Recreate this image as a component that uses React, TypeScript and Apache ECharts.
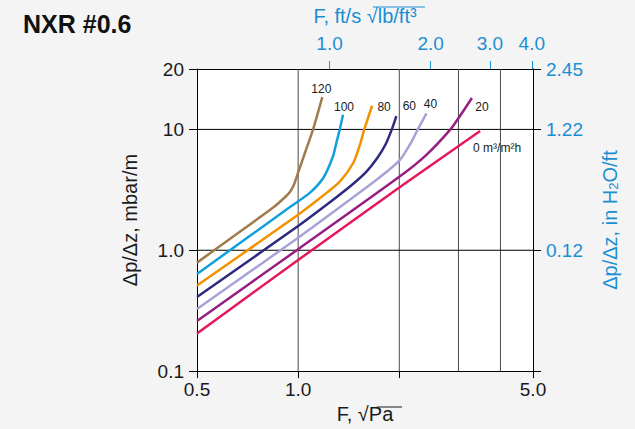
import React, { useEffect, useRef } from 'react';
import * as echarts from 'echarts';

const TITLE = 'NXR #0.6';

// Liquid load labels (m³/m²h) and curve colours
const LOAD_LABELS = ['0 m³/m²h', '20', '40', '60', '80', '100', '120'];
const COLORS = ['#e6175c', '#971e82', '#a8a3d7', '#2d2a7f', '#f39200', '#12a0dc', '#a07b4b'];

// F-factor (√Pa) and pressure drop (mbar/m) per liquid load
const F_0 = [0.5, 1.0, 2.0, 3.48];
const DP_0 = [0.205, 0.83, 3.3, 9.7];
const F_20 = [0.5, 1.0, 2.0, 2.4, 2.84, 3.03, 3.29];
const DP_20 = [0.26, 1.02, 4.05, 6.1, 10, 12.9, 18.2];
const F_40 = [0.5, 1.0, 1.64, 1.85, 2.01, 2.12, 2.2, 2.27, 2.41];
const DP_40 = [0.327, 1.27, 3.5, 4.55, 5.6, 7.0, 8.4, 10, 13.6];
const F_60 = [0.5, 1.0, 1.3, 1.45, 1.6, 1.72, 1.82, 1.9, 1.96];
const DP_60 = [0.41, 1.59, 2.75, 3.5, 4.5, 5.8, 7.5, 10, 12.9];
const F_80 = [0.5, 1.0, 1.19, 1.33, 1.46, 1.53, 1.57, 1.66];
const DP_80 = [0.51, 1.97, 2.85, 3.7, 5.3, 7.6, 9.8, 15.7];
const F_100 = [0.5, 0.95, 1.085, 1.19, 1.27, 1.3, 1.33, 1.36];
const DP_100 = [0.636, 2.3, 3.0, 4.0, 6.0, 7.8, 10, 13.2];
const F_120 = [0.5, 0.7, 0.85, 0.92, 0.946, 0.97, 1.0, 1.05, 1.11, 1.18];
const DP_120 = [0.79, 1.55, 2.3, 2.8, 3.05, 3.45, 4.4, 6.5, 10.2, 18.5];

const F_SERIES = [F_0, F_20, F_40, F_60, F_80, F_100, F_120];
const DP_SERIES = [DP_0, DP_20, DP_40, DP_60, DP_80, DP_100, DP_120];

// axes
const X_MIN = 0.5;
const X_MAX = 5.0;
const Y_MIN = 0.1;
const Y_MAX = 31.62;
const BOTTOM_LABELS = [0.5, 1.0, 5.0];
const BOTTOM_TICKS = [0.5, 1.0, 2.0, 5.0];
const V_GRID = [1, 2, 3, 4];
const H_GRID = [1, 10];
const LEFT_TICKS = [0.1, 1, 10, Y_MAX];
const LEFT_TICK_TEXT = ['0.1', '1.0', '10', '20'];
const RIGHT_TICK_TEXT = ['', '0.12', '1.22', '2.45'];
const TOP_TICKS = [1, 2, 3, 4];
const TOP_TICK_TEXT = ['1.0', '2.0', '3.0', '4.0'];
const SQRTPA_PER_FT_UNIT = 1.24;

// label offsets (px) from each curve's end
const LABEL_OFFSETS = [[17, 17], [10, 9], [4, -9], [13, -10], [12, 1], [1, -8], [-1, -8]];

const BLUE = '#1b8fd2';
const FONT = 'Liberation Sans, Arial, sans-serif';

function nearestIndex(values: number[], v: number) {
  let best = 0;
  let bd = Infinity;
  values.forEach((t, i) => {
    const d = Math.abs(Math.log(t) - Math.log(v));
    if (d < bd) { bd = d; best = i; }
  });
  return best;
}

export default function App() {
  const ref = useRef<HTMLDivElement>(null);
  useEffect(() => {
    if (!ref.current) return;
    const chart = echarts.init(ref.current, null, { renderer: 'svg' });

    const gridSeries: any[] = [];
    V_GRID.forEach((v) => {
      gridSeries.push({
        type: 'line', silent: true, symbol: 'none', xAxisIndex: 0, yAxisIndex: 0,
        data: [[v, Y_MIN], [v, Y_MAX]],
        lineStyle: { color: '#4a4a4a', width: 1 },
      });
    });
    H_GRID.forEach((v) => {
      gridSeries.push({
        type: 'line', silent: true, symbol: 'none', xAxisIndex: 0, yAxisIndex: 0,
        data: [[X_MIN, v], [X_MAX, v]],
        lineStyle: { color: '#000', width: 1 },
      });
    });

    const curveSeries = F_SERIES.map((fs, i) => {
      const dps = DP_SERIES[i];
      const last = fs.length - 1;
      return {
        type: 'line', name: LOAD_LABELS[i], symbol: 'none', smooth: 0.25,
        xAxisIndex: 0, yAxisIndex: 0,
        data: fs.map((f, j) => [f, dps[j]]),
        lineStyle: { color: COLORS[i], width: 2.5 },
        markPoint: {
          symbol: 'circle', symbolSize: 0, silent: true,
          data: [{
            coord: [fs[last], dps[last]],
            label: {
              show: true, position: 'inside', formatter: LOAD_LABELS[i],
              offset: LABEL_OFFSETS[i], color: '#1a1a1a', fontSize: 12, fontFamily: FONT,
            },
          }],
        },
      };
    });

    chart.setOption({
      animation: false,
      backgroundColor: '#f4f4f4',
      textStyle: { fontFamily: FONT },
      title: {
        text: TITLE, left: 18, top: 6,
        textStyle: { fontSize: 25, fontWeight: 'bold', color: '#111', fontFamily: FONT },
      },
      grid: {
        left: 197, right: 102, top: 69, bottom: 55, show: true,
        backgroundColor: '#fff', borderWidth: 0,
      },
      xAxis: [
        {
          type: 'log', position: 'bottom', min: X_MIN, max: X_MAX, logBase: 10,
          axisLine: { show: true, lineStyle: { color: '#000', width: 1 } },
          axisTick: { show: true, customValues: BOTTOM_TICKS, length: 7, lineStyle: { color: '#000' } },
          axisLabel: {
            customValues: BOTTOM_LABELS, fontSize: 19, color: '#1a1a1a', margin: 9,
            formatter: (v: number) => v.toFixed(1),
          },
          splitLine: { show: false }, minorTick: { show: false },
          name: 'F, √Pa', nameLocation: 'middle', nameGap: 31,
          nameTextStyle: { fontSize: 20, color: '#1a1a1a' },
        },
        {
          type: 'log', position: 'top', min: X_MIN / SQRTPA_PER_FT_UNIT, max: X_MAX / SQRTPA_PER_FT_UNIT, logBase: 10,
          axisLine: { show: true, lineStyle: { color: '#000', width: 1 } },
          axisTick: { show: true, customValues: TOP_TICKS, length: 8, lineStyle: { color: BLUE } },
          axisLabel: {
            customValues: TOP_TICKS, fontSize: 19, color: BLUE, margin: 16,
            formatter: (v: number) => TOP_TICK_TEXT[nearestIndex(TOP_TICKS, v)],
          },
          splitLine: { show: false },
          name: 'F, ft/s √lb/ft³', nameLocation: 'middle', nameGap: 43,
          nameTextStyle: { fontSize: 20, color: BLUE },
        },
      ],
      yAxis: [
        {
          type: 'log', position: 'left', min: Y_MIN, max: Y_MAX, logBase: 10,
          axisLine: { show: true, lineStyle: { color: '#000', width: 1 } },
          axisTick: { show: true, customValues: LEFT_TICKS, length: 8, lineStyle: { color: '#000' } },
          axisLabel: {
            customValues: LEFT_TICKS, fontSize: 19, color: '#1a1a1a', margin: 13,
            formatter: (v: number) => LEFT_TICK_TEXT[nearestIndex(LEFT_TICKS, v)],
          },
          splitLine: { show: false },
          name: 'Δp/Δz, mbar/m', nameLocation: 'middle', nameGap: 57, nameRotate: 90,
          nameTextStyle: { fontSize: 20, color: '#1a1a1a' },
        },
        {
          type: 'log', position: 'right', min: Y_MIN, max: Y_MAX, logBase: 10,
          axisLine: { show: true, lineStyle: { color: '#000', width: 1 } },
          axisTick: { show: true, customValues: LEFT_TICKS, length: 8, lineStyle: { color: '#000' } },
          axisLabel: {
            customValues: LEFT_TICKS.slice(1), fontSize: 19, color: BLUE, margin: 13,
            formatter: (v: number) => RIGHT_TICK_TEXT[nearestIndex(LEFT_TICKS, v)],
          },
          splitLine: { show: false },
          name: 'Δp/Δz, in H{sub|2}O/ft', nameLocation: 'middle', nameGap: 66, nameRotate: 90,
          nameTextStyle: {
            fontSize: 20, color: BLUE,
            rich: { sub: { fontSize: 13, color: BLUE, verticalAlign: 'bottom', padding: [8, 0, 0, 0] } },
          },
        },
      ],
      graphic: [
        { type: 'line', shape: { x1: 377, y1: 407, x2: 402, y2: 407 }, style: { stroke: '#1a1a1a', lineWidth: 1 } },
        { type: 'line', shape: { x1: 373, y1: 7, x2: 425, y2: 7 }, style: { stroke: BLUE, lineWidth: 1 } },
      ],
      series: [...gridSeries, ...curveSeries],
    });

    return () => chart.dispose();
  }, []);

  return (
    <div
      ref={ref}
      style={{ position: 'fixed', left: 0, top: 0, width: 635, height: 429 }}
    />
  );
}
